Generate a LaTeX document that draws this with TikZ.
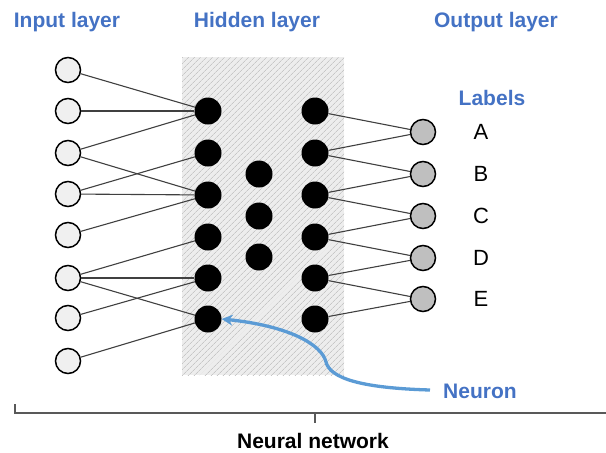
\documentclass[tikz,border=0pt]{standalone}
\usepackage{fontspec}
\setmainfont{Liberation Sans}
\usetikzlibrary{patterns.meta,arrows.meta}
\definecolor{titleblue}{HTML}{4472C4}
\definecolor{arrowblue}{HTML}{5B9BD5}
\definecolor{edgegray}{HTML}{404040}
\begin{document}
\begin{tikzpicture}[x=1pt,y=-1pt,
  innode/.style={circle,draw=black,line width=1.5pt,fill=black!6,minimum size=25pt,inner sep=0pt},
  hidnode/.style={circle,fill=black,minimum size=27pt,inner sep=0pt},
  outnode/.style={circle,draw=black,line width=1.5pt,fill=black!25,minimum size=25pt,inner sep=0pt},
  edge/.style={draw=edgegray,line width=1.1pt},
  title/.style={font=\fontsize{21}{25}\selectfont\bfseries,text=titleblue,anchor=base,inner sep=0pt},
  letter/.style={font=\fontsize{22}{26}\selectfont,inner sep=0pt},
  bracket/.style={draw=black!65,line width=1.4pt}]
\useasboundingbox (0,0) rectangle (606,453);

% hatched panel behind the hidden layers
\fill[black!7] (182,57) rectangle (344,375);
\fill[pattern={Lines[angle=45,distance=4pt,line width=0.8pt]},pattern color=black!22] (182,57) rectangle (344,375);

% input layer
\foreach \i/\y in {1/70,2/111,3/153,4/194,5/235,6/278,7/318,8/361}
  \node[innode] (i\i) at (68,\y) {};
% first hidden column
\foreach \i/\y in {1/111,2/153,3/195,4/237,5/278,6/319}
  \node[hidnode] (h\i) at (208,\y) {};
% middle column
\foreach \i/\y in {1/174,2/216,3/257}
  \node[hidnode] (m\i) at (259,\y) {};
% last hidden column
\foreach \i/\y in {1/111,2/153,3/195,4/237,5/278,6/319}
  \node[hidnode] (g\i) at (315,\y) {};
% output layer
\foreach \i/\y in {1/132,2/174,3/216,4/258,5/299}
  \node[outnode] (o\i) at (423,\y) {};

% connections input -> hidden
\foreach \a/\b in {1/1,2/1,3/1,3/3,4/2,4/3,5/3,6/4,6/5,6/6,7/5,8/6}
  \draw[edge] (i\a) -- (h\b);
% connections hidden -> output
\foreach \a/\b in {1/1,2/1,2/2,3/2,3/3,4/3,4/4,5/4,5/5,6/5}
  \draw[edge] (g\a) -- (o\b);

% titles
\node[title] (tin) at (67,27) {Input layer};
\node[title] (thid) at (257,27) {Hidden layer};
\node[title] (tout) at (496,27) {Output layer};
\node[title] (tlab) at (492,105) {Labels};

% class labels
\foreach \i/\t/\y in {1/A/132,2/B/174,3/C/216,4/D/258,5/E/299}
  \node[letter] (l\i) at (481,\y) {\t};

% neuron pointer
\node[title,anchor=base west] (tneu) at (443,398) {Neuron};
\coordinate (pstart) at (430,390);
\draw[arrowblue,line width=3.3pt,-{Stealth[length=11pt,width=11pt]}]
  (pstart) .. controls (360,388) and (330,378) .. (326,362)
  .. controls (322,345) and (290,326) .. (h6.east);

% brace under the whole network
\coordinate (bl) at (15,404);
\coordinate (bb) at (15,413);
\coordinate (br) at (606,413);
\coordinate (bm) at (315,413);
\coordinate (bt) at (315,423);
\draw[bracket] (bl) -- (bb) -- (br);
\draw[bracket] (bm) -- (bt);
\node[font=\fontsize{21}{25}\selectfont\bfseries,anchor=base,inner sep=0pt] (tnet) at (313,448) {Neural network};
\end{tikzpicture}
\end{document}
